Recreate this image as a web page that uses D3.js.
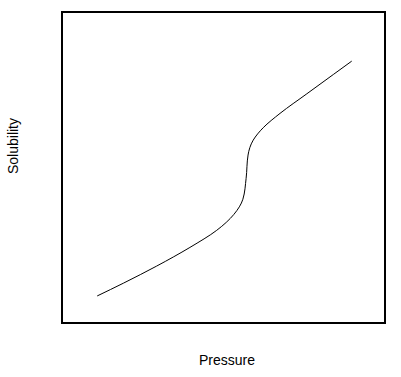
<!DOCTYPE html>
<html>
<head>
<meta charset="utf-8">
<script src="https://cdn.jsdelivr.net/npm/d3@7"></script>
<style>
  body { margin: 0; background: #fff; }
  text { font-family: "Liberation Sans", Arial, sans-serif; fill: #000; }
</style>
</head>
<body>
<svg id="drawing_region"></svg>
<script>
// values (arbitrary units, 0-100)
const pressure   = [10.9, 19.0, 29.3, 39.6, 47.9, 53.2, 56.0, 57.0, 57.6, 59.2, 62.3, 67.5, 75.8, 84.0, 89.7];
const solubility = [ 8.7, 12.8, 18.3, 24.3, 29.8, 34.9, 39.8, 46.5, 54.0, 58.8, 62.8, 67.4, 73.7, 79.9, 84.2];
const xLabel = "Pressure";
const yLabel = "Solubility";

const config = {
    width: 401,
    height: 377,
    margin: {top: 12, right: 16, bottom: 54, left: 62}
};

const svg = d3.select('#drawing_region')
    .attr('width', config.width)
    .attr('height', config.height);

const inner_width = config.width - config.margin.left - config.margin.right;
const inner_height = config.height - config.margin.top - config.margin.bottom;

const chart = svg.append('g')
    .attr('transform', `translate(${config.margin.left}, ${config.margin.top})`);

const xscale = d3.scaleLinear().domain([0, 100]).range([0, inner_width]);
const yscale = d3.scaleLinear().domain([0, 100]).range([inner_height, 0]);

const data = pressure.map((p, i) => ({x: p, y: solubility[i]}));

// frame
chart.append('rect')
    .attr('x', 0)
    .attr('y', 0)
    .attr('width', inner_width)
    .attr('height', inner_height)
    .attr('fill', 'none')
    .attr('stroke', '#000')
    .attr('stroke-width', 2);

const line = d3.line()
    .x(d => xscale(d.x))
    .y(d => yscale(d.y))
    .curve(d3.curveMonotoneY);

chart.append('path')
    .datum(data)
    .attr('d', line)
    .attr('fill', 'none')
    .attr('stroke', '#000')
    .attr('stroke-width', 1);

svg.append('text')
    .attr('x', 227)
    .attr('y', 365)
    .attr('text-anchor', 'middle')
    .attr('font-size', '14px')
    .text(xLabel);

svg.append('text')
    .attr('transform', `translate(18, 146) rotate(-90)`)
    .attr('text-anchor', 'middle')
    .attr('font-size', '14px')
    .text(yLabel);
</script>
</body>
</html>
